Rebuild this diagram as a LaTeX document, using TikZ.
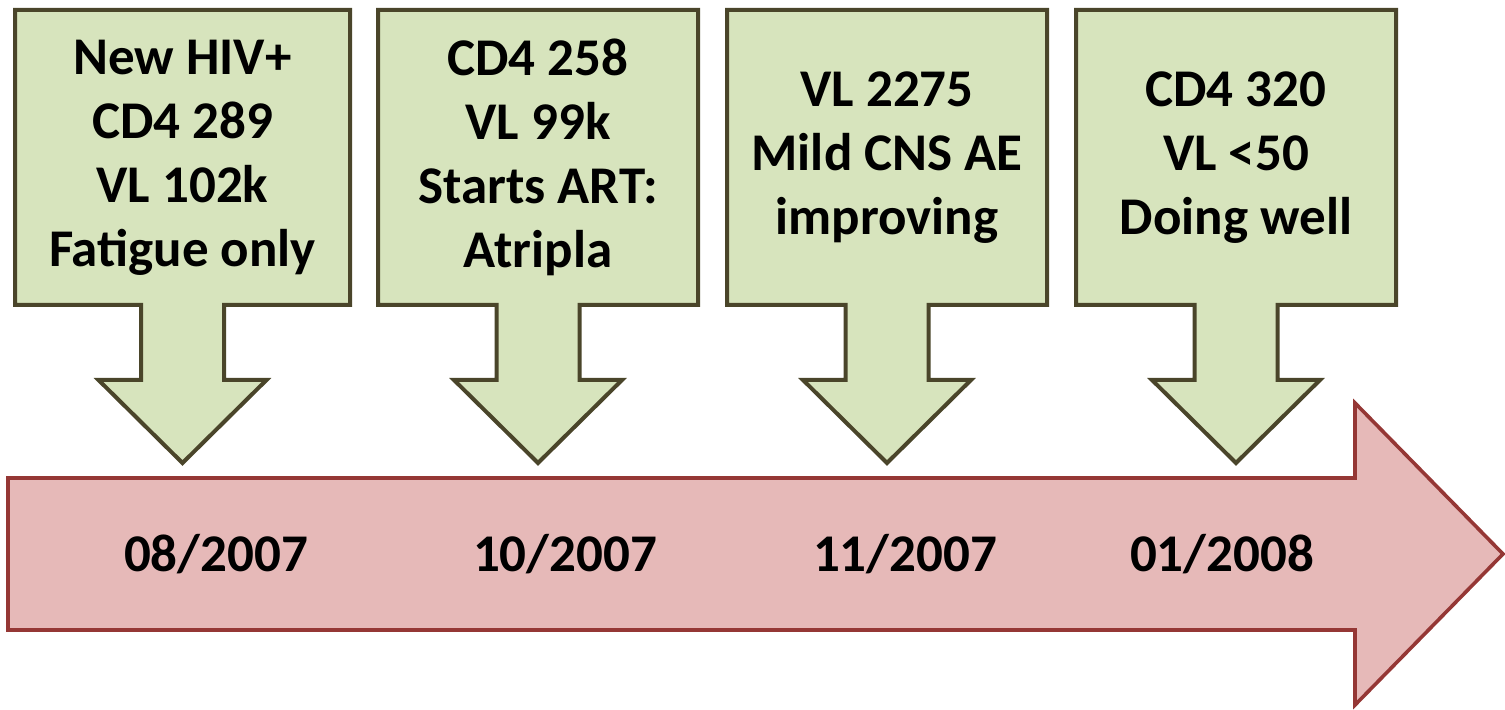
\documentclass[tikz,border=0pt]{standalone}
\usepackage{fontspec}
\setmainfont{Carlito}
\usepackage{xcolor}
\usetikzlibrary{backgrounds,positioning,calc}

\definecolor{evfill}{RGB}{215,228,189}
\definecolor{evedge}{RGB}{74,69,42}
\definecolor{tlfill}{RGB}{230,185,184}
\definecolor{tledge}{RGB}{149,55,53}

% down-pointing callout drawn around an event box
\newcommand{\evarrow}[1]{%
  \draw[evline] (#1.north west) -- (#1.north east) -- (#1.south east)
    -- ($(#1.south)+(20.75pt,0)$) -- ++(0,-37.5pt) -- ++(21.25pt,0)
    -- ($(#1.south)+(0,-79pt)$) -- ($(#1.south)+(-42pt,-37.5pt)$) -- ++(21.25pt,0)
    -- ++(0,37.5pt) -- (#1.south west) -- cycle;}

\begin{document}
\begin{tikzpicture}[x=0.5pt, y=0.5pt,
      evbox/.style={align=center, inner sep=0pt, outer sep=0pt, minimum width=160pt,
                    minimum height=147.5pt, font=\fontsize{26.5}{32}\selectfont\bfseries},
      evline/.style={draw=evedge, fill=evfill, line width=2pt, line join=miter},
      tlline/.style={draw=tledge, fill=tlfill, line width=1.8pt, line join=miter},
      date/.style={font=\fontsize{26.5}{32}\selectfont\bfseries}]
    \useasboundingbox (0,0) rectangle (1505,710);
    % --- events (top) ---
    \node[evbox, minimum width=167.5pt] (ev1) at (182.5,552.5) {New HIV+\\CD4 289\\VL 102k\\Fatigue only};
    \node[evbox, right=14pt of ev1] (ev2) {CD4 258\\VL 99k\\Starts ART:\\Atripla};
    \node[evbox, right=14.5pt of ev2] (ev3) {VL 2275\\Mild CNS AE\\improving};
    \node[evbox, right=14.5pt of ev3] (ev4) {CD4 320\\VL <50\\Doing well};
    % --- timeline (bottom) ---
    \node[date] (d1) at (216,156) {08/2007};
    \node[date] (d2) at (565,156) {10/2007};
    \node[date] (d3) at (905,156) {11/2007};
    \node[date] (d4) at (1222,156) {01/2008};
    \begin{scope}[on background layer]
      \draw[tlline] (8,80) -- (8,232) -- (1355,232) -- (1355,307) -- (1503,156)
        -- (1355,5) -- (1355,80) -- cycle;
      \evarrow{ev1}
      \evarrow{ev2}
      \evarrow{ev3}
      \evarrow{ev4}
    \end{scope}
  \end{tikzpicture}
\end{document}
